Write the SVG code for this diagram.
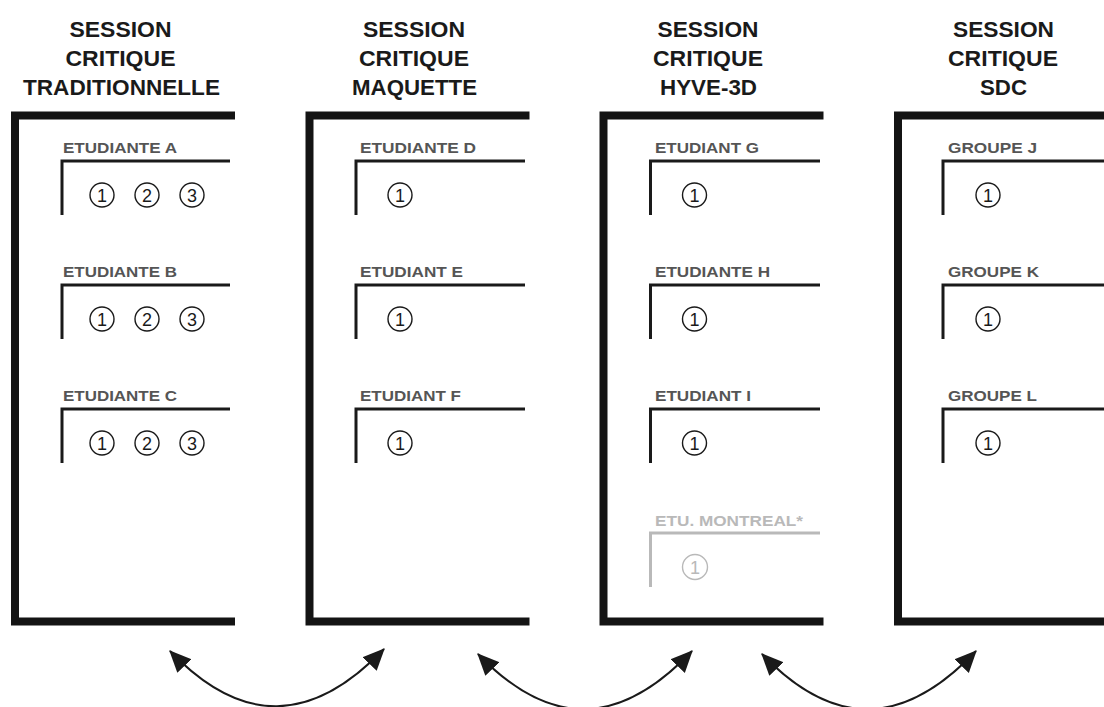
<svg xmlns="http://www.w3.org/2000/svg" width="1104" height="707" viewBox="0 0 1104 707">
<defs>
<style>
.title{font-family:"Liberation Sans",Arial,sans-serif;font-weight:bold;font-size:21.5px;fill:#1a1a1a;text-anchor:middle}
.lbl{font-family:"Liberation Sans",Arial,sans-serif;font-weight:bold;font-size:15.5px;fill:#555555}
.frame{fill:none;stroke:#141414;stroke-width:8;stroke-linejoin:miter}
.br{fill:none;stroke:#1a1a1a;stroke-width:3}
.c{fill:none;stroke:#1a1a1a;stroke-width:1.4}
.n{font-family:"Liberation Sans",Arial,sans-serif;font-size:18px;fill:#1a1a1a;text-anchor:middle}
.g .lbl{fill:#b9b9b9}
.g .br{stroke:#b9b9b9}
.g .c{stroke:#b9b9b9}
.g .n{fill:#b9b9b9}
.arc{fill:none;stroke:#1a1a1a;stroke-width:2}
</style>
<marker id="ah" markerUnits="userSpaceOnUse" markerWidth="22" markerHeight="22" viewBox="0 0 19 17" refX="18" refY="8.5" orient="auto-start-reverse">
<path d="M0,0 L19,8.5 L0,17 Z" fill="#1a1a1a"/>
</marker>
</defs>
<rect width="1104" height="707" fill="#ffffff"/>

<g id="panel-traditionnelle">
<text class="title" x="120.5" y="37" textLength="102" lengthAdjust="spacingAndGlyphs">SESSION</text>
<text class="title" x="120.5" y="66" textLength="110" lengthAdjust="spacingAndGlyphs">CRITIQUE</text>
<text class="title" x="121.5" y="95" textLength="197" lengthAdjust="spacingAndGlyphs">TRADITIONNELLE</text>
<path class="frame" d="M235,115.5 H15 V621.5 H235"/>
<g id="etudiante-a">
<text class="lbl" x="63" y="153" textLength="114" lengthAdjust="spacingAndGlyphs">ETUDIANTE A</text>
<path class="br" d="M62,215 V161 H230"/>
<circle class="c" cx="102" cy="195" r="12"/><text class="n" x="102" y="201.5">1</text>
<circle class="c" cx="147" cy="195" r="12"/><text class="n" x="147" y="201.5">2</text>
<circle class="c" cx="192" cy="195" r="12"/><text class="n" x="192" y="201.5">3</text>
</g>
<g id="etudiante-b">
<text class="lbl" x="63" y="277" textLength="114" lengthAdjust="spacingAndGlyphs">ETUDIANTE B</text>
<path class="br" d="M62,339 V285 H230"/>
<circle class="c" cx="102" cy="319" r="12"/><text class="n" x="102" y="325.5">1</text>
<circle class="c" cx="147" cy="319" r="12"/><text class="n" x="147" y="325.5">2</text>
<circle class="c" cx="192" cy="319" r="12"/><text class="n" x="192" y="325.5">3</text>
</g>
<g id="etudiante-c">
<text class="lbl" x="63" y="401" textLength="114" lengthAdjust="spacingAndGlyphs">ETUDIANTE C</text>
<path class="br" d="M62,463 V409 H230"/>
<circle class="c" cx="102" cy="443" r="12"/><text class="n" x="102" y="449.5">1</text>
<circle class="c" cx="147" cy="443" r="12"/><text class="n" x="147" y="449.5">2</text>
<circle class="c" cx="192" cy="443" r="12"/><text class="n" x="192" y="449.5">3</text>
</g>
</g>

<g id="panel-maquette">
<text class="title" x="414" y="37" textLength="102" lengthAdjust="spacingAndGlyphs">SESSION</text>
<text class="title" x="414" y="66" textLength="110" lengthAdjust="spacingAndGlyphs">CRITIQUE</text>
<text class="title" x="414.5" y="95" textLength="125" lengthAdjust="spacingAndGlyphs">MAQUETTE</text>
<path class="frame" d="M529.5,115.5 H309.5 V621.5 H529.5"/>
<g id="etudiante-d">
<text class="lbl" x="360" y="153" textLength="116" lengthAdjust="spacingAndGlyphs">ETUDIANTE D</text>
<path class="br" d="M356,215 V161 H525"/>
<circle class="c" cx="400" cy="195" r="12"/><text class="n" x="400" y="201.5">1</text>
</g>
<g id="etudiant-e">
<text class="lbl" x="360" y="277" textLength="103" lengthAdjust="spacingAndGlyphs">ETUDIANT E</text>
<path class="br" d="M356,339 V285 H525"/>
<circle class="c" cx="400" cy="319" r="12"/><text class="n" x="400" y="325.5">1</text>
</g>
<g id="etudiant-f">
<text class="lbl" x="360" y="401" textLength="101" lengthAdjust="spacingAndGlyphs">ETUDIANT F</text>
<path class="br" d="M356,463 V409 H525"/>
<circle class="c" cx="400" cy="443" r="12"/><text class="n" x="400" y="449.5">1</text>
</g>
</g>

<g id="panel-hyve3d">
<text class="title" x="708" y="37" textLength="101" lengthAdjust="spacingAndGlyphs">SESSION</text>
<text class="title" x="708" y="66" textLength="110" lengthAdjust="spacingAndGlyphs">CRITIQUE</text>
<text class="title" x="708.5" y="95" textLength="97" lengthAdjust="spacingAndGlyphs">HYVE-3D</text>
<path class="frame" d="M823.5,115.5 H603.5 V621.5 H823.5"/>
<g id="etudiant-g">
<text class="lbl" x="655" y="153" textLength="104" lengthAdjust="spacingAndGlyphs">ETUDIANT G</text>
<path class="br" d="M650.5,215 V161 H820"/>
<circle class="c" cx="694.5" cy="195" r="12"/><text class="n" x="694.5" y="201.5">1</text>
</g>
<g id="etudiante-h">
<text class="lbl" x="655" y="277" textLength="115" lengthAdjust="spacingAndGlyphs">ETUDIANTE H</text>
<path class="br" d="M650.5,339 V285 H820"/>
<circle class="c" cx="694.5" cy="319" r="12"/><text class="n" x="694.5" y="325.5">1</text>
</g>
<g id="etudiant-i">
<text class="lbl" x="655" y="401" textLength="96" lengthAdjust="spacingAndGlyphs">ETUDIANT I</text>
<path class="br" d="M650.5,463 V409 H820"/>
<circle class="c" cx="694.5" cy="443" r="12"/><text class="n" x="694.5" y="449.5">1</text>
</g>
<g id="etu-montreal" class="g">
<text class="lbl" x="655" y="526" textLength="148" lengthAdjust="spacingAndGlyphs">ETU. MONTREAL*</text>
<path class="br" d="M650.5,587 V533 H820"/>
<circle class="c" cx="695" cy="567" r="12.5"/><text class="n" x="695" y="573.5">1</text>
</g>
</g>

<g id="panel-sdc">
<text class="title" x="1003.5" y="37" textLength="101" lengthAdjust="spacingAndGlyphs">SESSION</text>
<text class="title" x="1003" y="66" textLength="110" lengthAdjust="spacingAndGlyphs">CRITIQUE</text>
<text class="title" x="1003.5" y="95" textLength="47" lengthAdjust="spacingAndGlyphs">SDC</text>
<path class="frame" d="M1110,115.5 H898 V621.5 H1110"/>
<g id="groupe-j">
<text class="lbl" x="948" y="153" textLength="89" lengthAdjust="spacingAndGlyphs">GROUPE J</text>
<path class="br" d="M943,215 V161 H1110"/>
<circle class="c" cx="988" cy="195" r="12"/><text class="n" x="988" y="201.5">1</text>
</g>
<g id="groupe-k">
<text class="lbl" x="948" y="277" textLength="91" lengthAdjust="spacingAndGlyphs">GROUPE K</text>
<path class="br" d="M943,339 V285 H1110"/>
<circle class="c" cx="988" cy="319" r="12"/><text class="n" x="988" y="325.5">1</text>
</g>
<g id="groupe-l">
<text class="lbl" x="948" y="401" textLength="89" lengthAdjust="spacingAndGlyphs">GROUPE L</text>
<path class="br" d="M943,463 V409 H1110"/>
<circle class="c" cx="988" cy="443" r="12"/><text class="n" x="988" y="449.5">1</text>
</g>
</g>

<g id="connectors">
<path class="arc" d="M170,651 C242,726 312,724 384,649" marker-start="url(#ah)" marker-end="url(#ah)"/>
<path class="arc" d="M478,654 C550,729 620,727 692,651" marker-start="url(#ah)" marker-end="url(#ah)"/>
<path class="arc" d="M762,654 C834,729 904,727 976,651" marker-start="url(#ah)" marker-end="url(#ah)"/>
</g>
</svg>
